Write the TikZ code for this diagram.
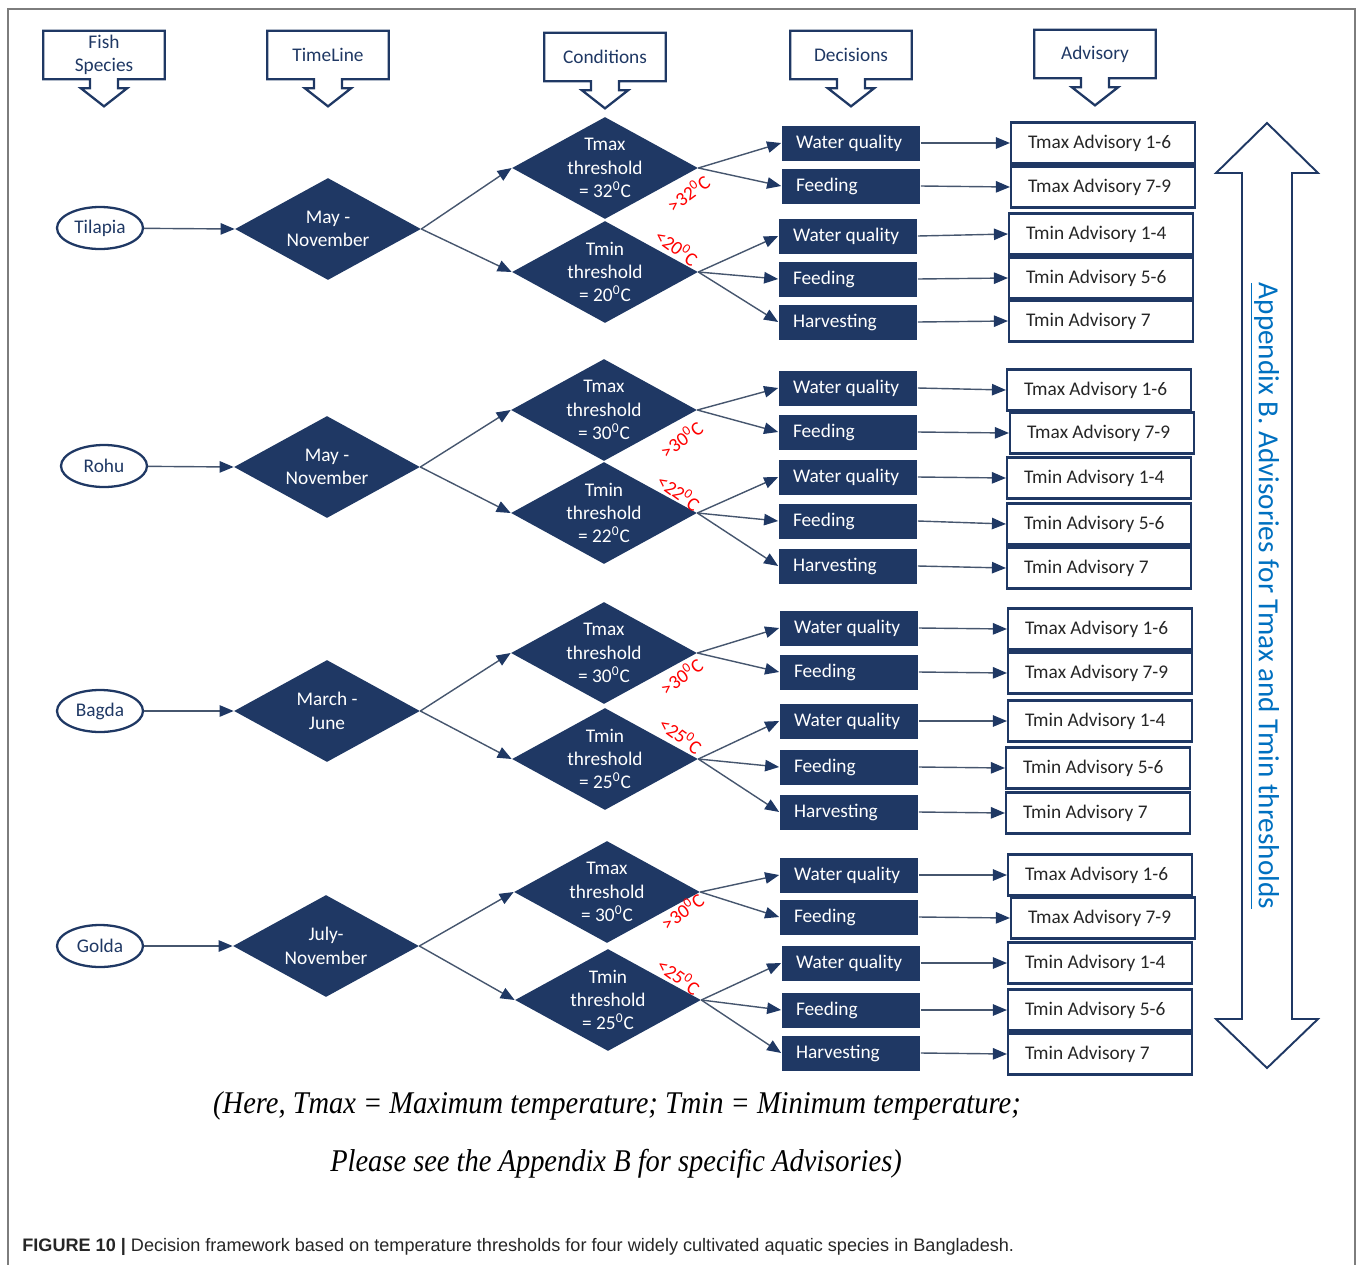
\documentclass[tikz,border=0pt]{standalone}
\usepackage{fontspec}
\setmainfont{Carlito}
\newfontfamily\noteserif[FakeStretch=0.9]{Liberation Serif}
\newfontfamily\capsans{Liberation Sans}
\usetikzlibrary{arrows.meta,calc,shapes.geometric}
\definecolor{navy}{RGB}{31,56,100}
\definecolor{linkgray}{RGB}{70,86,110}
\definecolor{appblue}{RGB}{0,112,192}
\definecolor{framegray}{RGB}{125,125,125}

\begin{document}
\begin{tikzpicture}[x=0.02cm, y=-0.02cm, >={Triangle[length=8pt,width=6.5pt,color=navy]},
    every node/.style={font=\fontsize{11}{13.3}\selectfont, text=black},
    hdbox/.style={minimum width=2.42cm, minimum height=0.96cm, inner sep=1pt, align=center, text=navy},
    hdline/.style={draw=navy, line width=1.3pt},
    species/.style={ellipse, draw=navy, line width=1.3pt, minimum width=1.72cm, minimum height=0.84cm, inner sep=0pt, text=navy},
    dia/.style={diamond, fill=navy, minimum width=3.72cm, minimum height=2.04cm, inner sep=0pt},
    dtext/.style={text=white, align=center, inner sep=0pt},
    decide/.style={fill=navy, text=white, minimum height=0.70cm, text width=2.2cm, inner xsep=0.29cm, inner ysep=0pt, align=flush left},
    adv/.style={draw=navy, line width=1.2pt, minimum height=0.82cm, text width=3.0cm, inner xsep=0.34cm, inner ysep=0pt, align=flush left, text=black!85},
    redlbl/.style={text=red, inner sep=0pt},
    conn/.style={->, draw=linkgray, line width=0.8pt}]
    \useasboundingbox (0,0) rectangle (1360,1265);

    % Frame
    \draw[framegray, line width=1.1pt] (8,1265) -- (8,9) -- (1355,9) -- (1355,1265);

    % Column heads
    \node[hdbox] (hfish) at (104,55) {Fish\\Species};
    \node[hdbox] (htime) at (328,55) {TimeLine};
    \node[hdbox] (hcond) at (605,57) {Conditions};
    \node[hdbox] (hdec) at (851,55) {Decisions};
    \node[hdbox] (hadv) at (1095,54) {Advisory};
    \foreach \h in {hfish,htime,hcond,hdec,hadv}
        \draw[hdline] (\h.south west) -- (\h.north west) -- (\h.north east) -- (\h.south east)
            -- ($(\h.south)+(14,0)$) -- ++(0,9) -- ++(9,0) -- ($(\h.south)+(0,27)$)
            -- ++(-23,-18) -- ++(9,0) -- ++(0,-9) -- cycle;

    % Tilapia
    \node[species] (sp1) at (100,228) {Tilapia};
    \node[dia, label={[dtext]center:May -\\November}] (tl1) at (328,229) {};
    \node[dia, label={[dtext]center:Tmax\\threshold\\= 32\textsuperscript{0}C}] (tx1) at (605,168) {};
    \node[dia, label={[dtext]center:Tmin\\threshold\\= 20\textsuperscript{0}C}] (tn1) at (605,272) {};
    \node[redlbl, rotate=36] (hi1) at (688,193) {>32\textsuperscript{0}C};
    \node[redlbl, rotate=-36] (lo1) at (677,247) {<20\textsuperscript{0}C};
    \node[decide] (dx1a) at (851,143) {Water quality};
    \node[decide] (dx1b) at (851,186) {Feeding};
    \node[decide] (dn1a) at (848,236) {Water quality};
    \node[decide] (dn1b) at (848,279) {Feeding};
    \node[decide] (dn1c) at (848,322) {Harvesting};
    \node[adv] (ax1a) at (1103,143) {Tmax Advisory 1-6};
    \node[adv] (ax1b) at (1103,187) {Tmax Advisory 7-9};
    \node[adv] (an1a) at (1101,234) {Tmin Advisory 1-4};
    \node[adv] (an1b) at (1101,278) {Tmin Advisory 5-6};
    \node[adv] (an1c) at (1101,321) {Tmin Advisory 7};

    % Rohu
    \node[species] (sp2) at (104,466) {Rohu};
    \node[dia, label={[dtext]center:May -\\November}] (tl2) at (327,467) {};
    \node[dia, label={[dtext]center:Tmax\\threshold\\= 30\textsuperscript{0}C}] (tx2) at (604,410) {};
    \node[dia, label={[dtext]center:Tmin\\threshold\\= 22\textsuperscript{0}C}] (tn2) at (604,513) {};
    \node[redlbl, rotate=36] (hi2) at (681,439) {>30\textsuperscript{0}C};
    \node[redlbl, rotate=-36] (lo2) at (679,492) {<22\textsuperscript{0}C};
    \node[decide] (dx2a) at (848,388) {Water quality};
    \node[decide] (dx2b) at (848,432) {Feeding};
    \node[decide] (dn2a) at (848,477) {Water quality};
    \node[decide] (dn2b) at (848,521) {Feeding};
    \node[decide] (dn2c) at (848,566) {Harvesting};
    \node[adv] (ax2a) at (1099,390) {Tmax Advisory 1-6};
    \node[adv] (ax2b) at (1102,433) {Tmax Advisory 7-9};
    \node[adv] (an2a) at (1099,478) {Tmin Advisory 1-4};
    \node[adv] (an2b) at (1099,524) {Tmin Advisory 5-6};
    \node[adv] (an2c) at (1099,568) {Tmin Advisory 7};

    % Bagda
    \node[species] (sp3) at (100,711) {Bagda};
    \node[dia, label={[dtext]center:March -\\June}] (tl3) at (327,711) {};
    \node[dia, label={[dtext]center:Tmax\\threshold\\= 30\textsuperscript{0}C}] (tx3) at (604,653) {};
    \node[dia, label={[dtext]center:Tmin\\threshold\\= 25\textsuperscript{0}C}] (tn3) at (605,759) {};
    \node[redlbl, rotate=36] (hi3) at (681,676) {>30\textsuperscript{0}C};
    \node[redlbl, rotate=-36] (lo3) at (681,735) {<25\textsuperscript{0}C};
    \node[decide] (dx3a) at (849,628) {Water quality};
    \node[decide] (dx3b) at (849,672) {Feeding};
    \node[decide] (dn3a) at (849,721) {Water quality};
    \node[decide] (dn3b) at (849,767) {Feeding};
    \node[decide] (dn3c) at (849,812) {Harvesting};
    \node[adv] (ax3a) at (1100,629) {Tmax Advisory 1-6};
    \node[adv] (ax3b) at (1100,673) {Tmax Advisory 7-9};
    \node[adv] (an3a) at (1100,721) {Tmin Advisory 1-4};
    \node[adv] (an3b) at (1098,768) {Tmin Advisory 5-6};
    \node[adv] (an3c) at (1098,813) {Tmin Advisory 7};

    % Golda
    \node[species] (sp4) at (100,946) {Golda};
    \node[dia, label={[dtext]center:July-\\November}] (tl4) at (326,946) {};
    \node[dia, label={[dtext]center:Tmax\\threshold\\= 30\textsuperscript{0}C}] (tx4) at (607,892) {};
    \node[dia, label={[dtext]center:Tmin\\threshold\\= 25\textsuperscript{0}C}] (tn4) at (608,1000) {};
    \node[redlbl, rotate=36] (hi4) at (682,911) {>30\textsuperscript{0}C};
    \node[redlbl, rotate=-36] (lo4) at (679,976) {<25\textsuperscript{0}C};
    \node[decide] (dx4a) at (849,875) {Water quality};
    \node[decide] (dx4b) at (849,917) {Feeding};
    \node[decide] (dn4a) at (851,963) {Water quality};
    \node[decide] (dn4b) at (851,1010) {Feeding};
    \node[decide] (dn4c) at (851,1053) {Harvesting};
    \node[adv] (ax4a) at (1100,875) {Tmax Advisory 1-6};
    \node[adv] (ax4b) at (1103,918) {Tmax Advisory 7-9};
    \node[adv] (an4a) at (1100,963) {Tmin Advisory 1-4};
    \node[adv] (an4b) at (1100,1010) {Tmin Advisory 5-6};
    \node[adv] (an4c) at (1100,1054) {Tmin Advisory 7};

    % Connectors
    \foreach \g in {1,2,3,4} {
        \draw[conn] (sp\g) -- (tl\g.west);
        \draw[conn] (tl\g.east) -- (tx\g.west);
        \draw[conn] (tl\g.east) -- (tn\g.west);
        \draw[conn] (tx\g.east) -- (dx\g a.west);
        \draw[conn] (tx\g.east) -- (dx\g b.west);
        \draw[conn] (tn\g.east) -- (dn\g a.west);
        \draw[conn] (tn\g.east) -- (dn\g b.west);
        \draw[conn] (tn\g.east) -- (dn\g c.west);
        \draw[conn] (dx\g a.east) -- (ax\g a.west);
        \draw[conn] (dx\g b.east) -- (ax\g b.west);
        \draw[conn] (dn\g a.east) -- (an\g a.west);
        \draw[conn] (dn\g b.east) -- (an\g b.west);
        \draw[conn] (dn\g c.east) -- (an\g c.west);
    }

    % Appendix arrow
    \draw[hdline, line width=1.1pt] (1267,123) -- (1318,173) -- (1292,173) -- (1292,1019) -- (1318,1019)
        -- (1267,1068) -- (1216,1019) -- (1242,1019) -- (1242,173) -- (1216,173) -- cycle;
    \node[rotate=-90, text=appblue, font=\fontsize{16.6}{19}\selectfont] (appx) at (1265,596)
        {\underline{Appendix B. Advisories for Tmax and Tmin thresholds}};

    % Notes
    \node[font=\noteserif\itshape\fontsize{18}{21}\selectfont] (note1) at (617,1106)
        {(Here, Tmax = Maximum temperature; Tmin = Minimum temperature;};
    \node[font=\noteserif\itshape\fontsize{18}{21}\selectfont] (note2) at (616,1164)
        {Please see the Appendix B for specific Advisories)};
    \node[anchor=west, inner sep=0pt, font=\capsans\fontsize{10.3}{12}\selectfont, text=black!85] (cap) at (22,1247)
        {\textbf{FIGURE 10 |} Decision framework based on temperature thresholds for four widely cultivated aquatic species in Bangladesh.};
\end{tikzpicture}
\end{document}
